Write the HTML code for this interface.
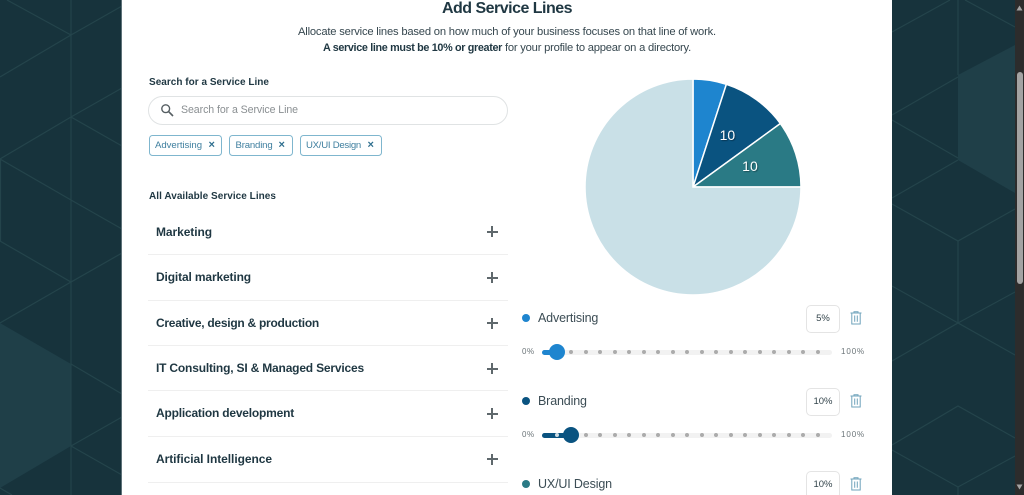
<!DOCTYPE html>
<html lang="en">
<head>
<meta charset="utf-8">
<title>Add Service Lines</title>
<style>
html,body{margin:0;padding:0;width:1024px;height:495px;overflow:hidden;background:#17333c;font-family:"Liberation Sans",sans-serif}
#stage{position:relative;width:1024px;height:495px;overflow:hidden}
#bg{position:absolute;left:0;top:0}
#panel{position:absolute;left:122px;top:0;width:770px;height:495px;background:#fff}
#edge-l{position:absolute;left:121px;top:0;width:1px;height:495px;background:#5d7178}
#scrollbar{position:absolute;left:1015px;top:0;width:9px;height:495px;background:#2c2c2c}
#thumb{position:absolute;left:1016.5px;top:72px;width:6px;height:212px;border-radius:3px;background:#a3a3a3}
.t{position:absolute;white-space:nowrap;line-height:1;color:#1f3742}
.b{font-weight:bold}
.item{font-weight:bold;font-size:12px;left:156px;color:#1f3742}
.div{position:absolute;left:148px;width:360px;height:1px;background:#efefef}
.plus{position:absolute;left:486.5px;width:11px;height:11px}
.plus:before,.plus:after{content:"";position:absolute;background:#5f686c}
.plus:before{left:0;top:4.5px;width:11px;height:2px}
.plus:after{left:4.5px;top:0;width:2px;height:11px}
.chip{position:absolute;top:134.5px;height:19px;border:1px solid #7fb6ce;border-radius:3.5px;background:#fff}
.chip-t{font-size:9.6px;color:#3f7f9f}
.chip-x{font-size:11px;color:#2f6f8f;font-weight:bold}
#search{position:absolute;left:148px;top:95.5px;width:358px;height:27.5px;border:1px solid #e0e3e4;border-radius:15px;background:#fff}
.val-box{position:absolute;left:806px;width:32px;height:25.5px;border:1px solid #e4e4e4;border-radius:5px;background:#fff;font-size:9.5px;line-height:25.5px;text-align:center;color:#33444b}
.swatch{position:absolute;left:522px;width:8px;height:8px;border-radius:50%}
.lab{font-size:12.5px;left:538px;color:#3c4d55;letter-spacing:-.15px}
.pct{font-size:8px;color:#6b7478}
.track{position:absolute;left:542px;width:290px;height:5px;border-radius:3px;background:#f2f2f2}
.fill{position:absolute;left:542px;height:5px;border-radius:3px 0 0 3px}
.tick{position:absolute;width:4px;height:4px;border-radius:50%;background:#ababab}
.handle{position:absolute;width:16px;height:16px;border-radius:50%}
.trash{position:absolute;left:850px}
</style>
</head>
<body>
<div id="stage">
<svg id="bg" width="1024" height="495">
  <g fill="#1f3f48">
    <polygon points="0,323 71,364 71,446 0,488"/>
    <polygon points="958,75 1015,45 1015,193 958,160"/>
  </g>
  <g stroke="#24444b" stroke-width="1.2" fill="none">
    <path d="M71 0V495M0.5 159V241"/>
    <path d="M7 0L71 35M0 77L71 35L122 6M0 159L71 117L122 88M71 117L122 146M0 159L71 200L122 229M0 241L71 282L122 253M0 323L71 282M71 364L122 394M71 446L122 417M71 446L122 475M0 488L12 495"/>
    <path d="M892 32L950 0M965 0L1015 27M958 0V75M892 115L958 77M892 120L958 158M892 198L958 160M892 204L958 241L1015 209M958 241V323M892 286L958 323L1015 292M892 361L958 323L1015 355M892 445L958 406L1015 438M892 450L958 487L1015 456M958 487V495"/>
  </g>
</svg>
<div id="edge-l"></div>
<div id="panel"></div>

<div class="t b" data-w="130" style="left:442px;top:0.5px;font-size:16px">Add Service Lines</div>
<div class="t" data-w="418" style="left:298px;top:26.5px;font-size:11.2px;color:#36474f">Allocate service lines based on how much of your business focuses on that line of work.</div>
<div class="t b" data-w="179" style="left:323px;top:42.5px;font-size:10.8px">A service line must be 10% or greater</div>
<div class="t" data-w="186" style="left:505px;top:42.5px;font-size:11.2px;color:#36474f">for your profile to appear on a directory.</div>

<div class="t b" data-w="120" style="left:149px;top:78px;font-size:10px">Search for a Service Line</div>
<div id="search"></div>
<svg style="position:absolute;left:160px;top:103px" width="14" height="14"><circle cx="5.7" cy="5.7" r="3.9" fill="none" stroke="#555e62" stroke-width="1.4"/><path d="M8.6 8.6L13 13" stroke="#555e62" stroke-width="1.6"/></svg>
<div class="t" data-w="117" style="left:181px;top:105px;font-size:10.6px;color:#8a8f92">Search for a Service Line</div>

<div class="chip" style="left:149px;width:70.5px"></div>
<div class="t chip-t" data-w="47" style="left:155px;top:140.5px">Advertising</div>
<div class="t chip-x" style="left:208.5px;top:140px">×</div>
<div class="chip" style="left:229px;width:61.5px"></div>
<div class="t chip-t" data-w="37" style="left:235.5px;top:140.5px">Branding</div>
<div class="t chip-x" style="left:278.5px;top:140px">×</div>
<div class="chip" style="left:300px;width:79.5px"></div>
<div class="t chip-t" data-w="55" style="left:306px;top:140.5px">UX/UI Design</div>
<div class="t chip-x" style="left:367.5px;top:140px">×</div>

<div class="t b" data-w="127" style="left:149px;top:191.5px;font-size:10px">All Available Service Lines</div>

<div class="t item" data-w="56" style="top:225.5px">Marketing</div>
<div class="plus" style="top:226px"></div>
<div class="div" style="top:254px"></div>
<div class="t item" data-w="95" style="top:271px">Digital marketing</div>
<div class="plus" style="top:272px"></div>
<div class="div" style="top:299.5px;height:1.5px"></div>
<div class="t item" data-w="163" style="top:316.5px">Creative, design &amp; production</div>
<div class="plus" style="top:317.5px"></div>
<div class="div" style="top:345px"></div>
<div class="t item" data-w="208" style="top:362px">IT Consulting, SI &amp; Managed Services</div>
<div class="plus" style="top:363px"></div>
<div class="div" style="top:390px"></div>
<div class="t item" data-w="138" style="top:407px">Application development</div>
<div class="plus" style="top:408px"></div>
<div class="div" style="top:436px"></div>
<div class="t item" data-w="116" style="top:453px">Artificial Intelligence</div>
<div class="plus" style="top:453.5px"></div>
<div class="div" style="top:481.5px;height:1.5px"></div>

<svg id="pie" style="position:absolute;left:122px;top:0" width="770" height="300"></svg>
<div id="rows"></div>

<div id="scrollbar"></div>
<div id="thumb"></div>
<svg style="position:absolute;left:1015px;top:0" width="9" height="495"><path d="M1.5 10.5L4.5 5.5L7.5 10.5Z M1.5 484.5L4.5 489.5L7.5 484.5Z" fill="#a3a3a3"/></svg>
</div>

<script>
var categories = ['Advertising', 'Branding', 'UX/UI Design', 'Unallocated'];
var sliceValues = [5, 10, 10, 75];
var sliceLabels = ['', '10', '10', ''];
var sliderNames = ['Advertising', 'Branding', 'UX/UI Design'];
var sliderValues = [5, 10, 10];
var sliderTicks = [5, 10, 15, 20, 25, 30, 35, 40, 45, 50, 55, 60, 65, 70, 75, 80, 85, 90, 95];

var seriesColors = ['#1e85cf', '#0a5380', '#2a7a85', '#c9e0e7'];
var SVGNS = 'http://www.w3.org/2000/svg';
var cx = 571, cy = 187, R = 108;
var total = sliceValues.reduce(function (a, b) { return a + b; }, 0);
var pie = document.getElementById('pie');

function angleOf(v) { return v / total * 2 * Math.PI; }
function px(a, r) { return cx + r * Math.sin(a); }
function py(a, r) { return cy - r * Math.cos(a); }

var acc = 0;
sliceValues.forEach(function (v, i) {
  var a0 = angleOf(acc), a1 = angleOf(acc + v);
  var large = (a1 - a0) > Math.PI ? 1 : 0;
  var p = document.createElementNS(SVGNS, 'path');
  p.setAttribute('d', 'M' + cx + ' ' + cy + 'L' + px(a0, R) + ' ' + py(a0, R) + 'A' + R + ' ' + R + ' 0 ' + large + ' 1 ' + px(a1, R) + ' ' + py(a1, R) + 'Z');
  p.setAttribute('fill', seriesColors[i]);
  p.setAttribute('stroke', '#fff');
  p.setAttribute('stroke-width', '1.5');
  
  
  pie.appendChild(p);
  acc += v;
});
acc = 0;
sliceValues.forEach(function (v, i) {
  var mid = angleOf(acc + v / 2);
  acc += v;
  if (!sliceLabels[i]) return;
  var t = document.createElementNS(SVGNS, 'text');
  t.setAttribute('x', px(mid, 62) - 2);
  t.setAttribute('y', py(mid, 62) + 3);
  t.setAttribute('text-anchor', 'middle');
  t.setAttribute('font-size', '14');
  t.setAttribute('fill', '#fff');
  t.setAttribute('style', 'font-family:"Liberation Sans",sans-serif;text-shadow:1px 1px 1px rgba(0,0,0,.35)');
  t.textContent = sliceLabels[i];
  
  
  pie.appendChild(t);
});

function sliderX(v) { return 542 + v * 2.9; }

var rows = document.getElementById('rows');
function add(cls, css, text) {
  var d = document.createElement('div');
  d.className = cls;
  d.style.cssText = css;
  if (text) d.textContent = text;
  rows.appendChild(d);
  return d;
}
sliderNames.forEach(function (name, i) {
  var top = 318 + i * 83;
  var sy = top + 34;
  var color = seriesColors[i];
  var x = sliderX(sliderValues[i]);

  var sw = add('swatch', 'top:' + (top - 4) + 'px;background:' + color);
  
  

  var lab = add('t lab', 'top:' + (top - 6.5) + 'px', name);
  
  

  var box = add('val-box', 'top:' + (top - 13) + 'px', sliderValues[i] + '%');
  
  

  var tr = document.createElementNS(SVGNS, 'svg');
  tr.setAttribute('class', 'trash');
  tr.setAttribute('width', '12');
  tr.setAttribute('height', '14');
  tr.style.top = (top - 7) + 'px';
  tr.innerHTML = '<path d="M0.5 2H11.5M4 2V0.8H8V2M1.8 2V13H10.2V2M4.7 4.5V10.8M7.3 4.5V10.8" fill="none" stroke="#6fa3bb" stroke-width="1"/>';
  
  
  rows.appendChild(tr);

  if (sy < 495) {
    var p0 = add('t pct', 'left:522px;top:' + (sy - 4) + 'px;letter-spacing:.6px', '0%');
    
    

    var p1 = add('t pct', 'left:841px;top:' + (sy - 4) + 'px;letter-spacing:.9px', '100%');
    
    

    var track = add('track', 'top:' + (sy - 2.5) + 'px');
    
    

    var fill = add('fill', 'top:' + (sy - 2.5) + 'px;width:' + (x - 542) + 'px;background:' + color);
    
    

    sliderTicks.forEach(function (tv) {
      var active = tv < sliderValues[i];
      var k = add('tick', 'left:' + (sliderX(tv) - 2) + 'px;top:' + (sy - 2) + 'px' + (active ? ';background:#cfdde5' : ''));
      
      
    });

    var h = add('handle', 'left:' + (x - 8) + 'px;top:' + (sy - 8) + 'px;background:' + color);
    
    
  }
});

/* fit text widths to the reference, since the original face is unavailable */
document.querySelectorAll('[data-w]').forEach(function (el) {
  var target = parseFloat(el.getAttribute('data-w'));
  var w = el.getBoundingClientRect().width;
  var n = el.textContent.length;
  el.style.letterSpacing = ((target - w) / n).toFixed(3) + 'px';
});
</script>
</body>
</html>
